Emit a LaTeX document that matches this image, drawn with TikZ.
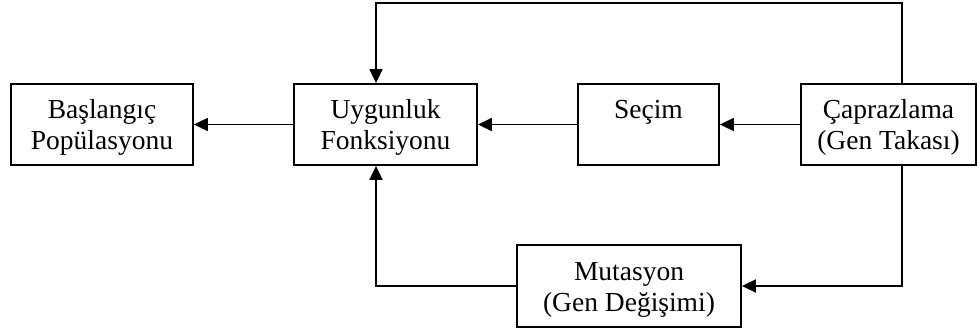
\documentclass[tikz,border=0pt]{standalone}
\usepackage{fontspec}
\setmainfont{Liberation Serif}
\usetikzlibrary{arrows.meta}

\begin{document}
\begin{tikzpicture}[x=1pt,y=-1pt,
  box/.style={draw, line width=1.8pt, rectangle, inner sep=0pt, minimum height=81pt},
  line/.style={anchor=base, inner sep=0pt, font=\fontsize{27.5}{31}\selectfont},
  link/.style={line width=1.8pt, -{Triangle[length=14pt,width=13pt]}}]
  % canvas
  \fill[white] (0,0) rectangle (977,329);
  \useasboundingbox (0,0) rectangle (977,329);

  % process boxes
  \node[box, minimum width=182pt] (bas) at (102,124.5) {};
  \node[box, minimum width=183pt] (uyg) at (385.5,124.5) {};
  \node[box, minimum width=141pt] (sec) at (648.5,124.5) {};
  \node[box, minimum width=175pt] (cap) at (888.5,124.5) {};
  \node[box, minimum width=224pt, minimum height=82pt] (mut) at (629,286) {};

  % box captions, one node per line, placed on their baselines
  \node[line] (bas1) at (bas.center |- 0,118.5) {Başlangıç};
  \node[line] (bas2) at (bas.center |- 0,149.5) {Popülasyonu};
  \node[line] (uyg1) at (uyg.center |- 0,118.5) {Uygunluk};
  \node[line] (uyg2) at (uyg.center |- 0,149.5) {Fonksiyonu};
  \node[line] (sec1) at (sec.center |- 0,118.5) {Seçim};
  \node[line] (cap1) at (cap.center |- 0,118.5) {Çaprazlama};
  \node[line] (cap2) at (cap.center |- 0,149.5) {(Gen Takası)};
  \node[line] (mut1) at (mut.center |- 0,280) {Mutasyon};
  \node[line] (mut2) at (mut.center |- 0,311) {(Gen Değişimi)};

  % routing points of the feedback loops
  \coordinate (topR) at (902,3);
  \coordinate (topL) at (376,3);
  \coordinate (botR) at (902,286);
  \coordinate (botL) at (376,286);

  % main chain
  \draw[link] (uyg) -- (bas);
  \draw[link] (sec) -- (uyg);
  \draw[link] (cap) -- (sec);

  % loop over the top
  \draw[link] (cap.north -| topR) -- (topR) -- (topL) -- (topL |- uyg.north);
  % loop through mutation
  \draw[link] (cap.south -| botR) -- (botR) -- (mut.east);
  \draw[link] (mut.west) -- (botL) -- (botL |- uyg.south);
\end{tikzpicture}
\end{document}
